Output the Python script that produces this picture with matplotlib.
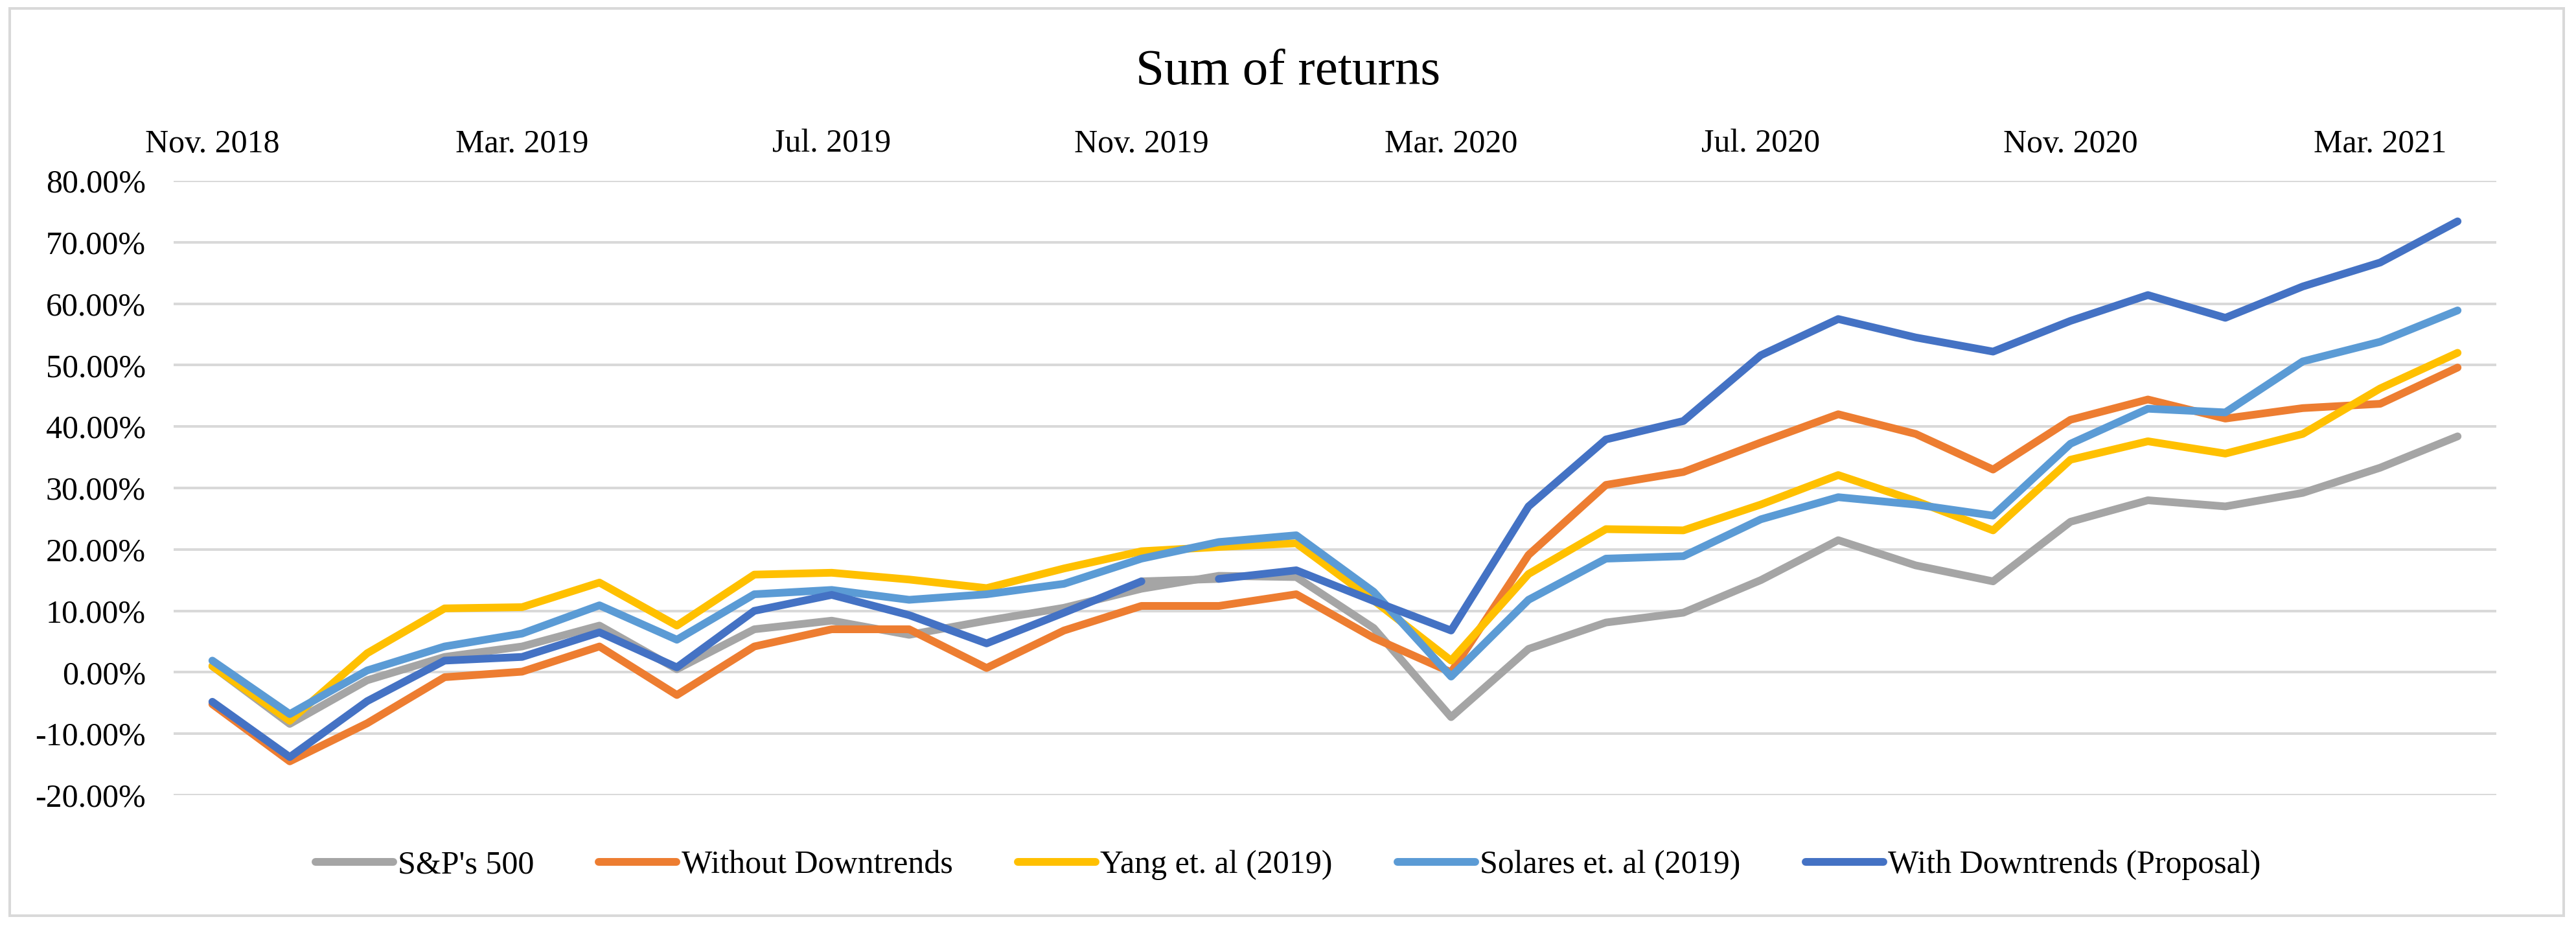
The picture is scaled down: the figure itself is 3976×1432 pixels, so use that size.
import matplotlib
matplotlib.use("Agg")
import matplotlib.pyplot as plt
from matplotlib.patches import Rectangle
from matplotlib.ticker import FuncFormatter, FixedLocator

plt.rcParams['font.family'] = ['Liberation Serif', 'DejaVu Serif']

months = ["Nov. 2018", "Dec. 2018", "Jan. 2019", "Feb. 2019", "Mar. 2019", "Apr. 2019",
          "May. 2019", "Jun. 2019", "Jul. 2019", "Aug. 2019", "Sep. 2019", "Oct. 2019",
          "Nov. 2019", "Dec. 2019", "Jan. 2020", "Feb. 2020", "Mar. 2020", "Apr. 2020",
          "May. 2020", "Jun. 2020", "Jul. 2020", "Aug. 2020", "Sep. 2020", "Oct. 2020",
          "Nov. 2020", "Dec. 2020", "Jan. 2021", "Feb. 2021", "Mar. 2021", "Apr. 2021"]

sp500 = [1.0, -8.4, -1.3, 2.5, 4.2, 7.6, 0.5, 7.0, 8.4, 6.1, 8.4, 10.5, 13.6, 15.7, 15.5,
         7.2, -7.3, 3.8, 8.1, 9.7, 15.0, 21.5, 17.4, 14.8, 24.5, 28.0, 27.0, 29.2, 33.3, 38.4]
without_down = [-5.2, -14.5, -8.3, -0.8, 0.1, 4.2, -3.7, 4.2, 7.0, 7.0, 0.7, 6.8, 10.8, 10.8, 12.7,
                5.6, 0.0, 19.1, 30.5, 32.6, 37.4, 42.0, 38.8, 33.0, 41.1, 44.4, 41.3, 43.0, 43.7, 49.6]
yang = [1.0, -7.9, 3.1, 10.4, 10.6, 14.6, 7.6, 15.9, 16.2, 15.1, 13.7, 16.9, 19.7, 20.4, 21.0,
        11.7, 1.9, 16.0, 23.3, 23.1, 27.3, 32.1, 27.9, 23.1, 34.6, 37.6, 35.6, 38.8, 46.2, 52.0]
solares = [1.9, -6.8, 0.3, 4.2, 6.3, 10.9, 5.3, 12.7, 13.4, 11.8, 12.7, 14.4, 18.5, 21.2, 22.3,
           13.1, -0.7, 11.8, 18.5, 18.9, 24.9, 28.5, 27.3, 25.5, 37.2, 42.9, 42.3, 50.6, 53.8, 58.9]
with_down = [-4.8, -13.8, -4.7, 1.9, 2.5, 6.5, 0.8, 10.0, 12.6, 9.3, 4.7, 9.7, 14.8, 15.2, 16.6,
             11.6, 6.8, 27.0, 37.9, 40.9, 51.6, 57.5, 54.5, 52.2, 57.2, 61.4, 57.7, 62.8, 66.7, 73.4]

series_names = ["S&P's 500", "Without Downtrends", "Yang et. al (2019)",
                "Solares et. al (2019)", "With Downtrends (Proposal)"]
colors = ["#A5A5A5", "#ED7D31", "#FFC000", "#5B9BD5", "#4472C4"]
gap_index = 12  # segment between Nov. 2019 and Dec. 2019 of the proposal is drawn grey

W, H = 3976, 1432
fig = plt.figure(figsize=(W / 100, H / 100), dpi=100)
fig.patch.set_facecolor("white")

ax = fig.add_axes([268 / W, 1 - 1227 / H, (3853 - 268) / W, (1227 - 279) / H])

x = list(range(len(months)))
lw = 8.6
style = dict(linewidth=lw, solid_joinstyle="round", solid_capstyle="round")

handles = []
for i, (vals, name, c) in enumerate(zip([sp500, without_down, yang, solares, with_down],
                                         series_names, colors)):
    if i == 4:
        # grey segment in the gap
        ax.plot(x[gap_index:gap_index + 2], vals[gap_index:gap_index + 2],
                color=colors[0], zorder=2, **style)
        h, = ax.plot(x[:gap_index + 1], vals[:gap_index + 1], color=c, zorder=3 + i, label=name, **style)
        ax.plot(x[gap_index + 1:], vals[gap_index + 1:], color=c, zorder=3 + i, **style)
    else:
        h, = ax.plot(x, vals, color=c, zorder=3 + i, label=name, **style)
    handles.append(h)

ax.set_xlim(-0.5, len(months) - 0.5)
ax.set_ylim(-20, 80)
ax.yaxis.set_major_locator(FixedLocator(list(range(-20, 81, 10))))
ax.yaxis.set_major_formatter(FuncFormatter(lambda v, p: "%.2f%%" % v))

tick_pos = x[::4]
ax.set_xticks(tick_pos)
ax.set_xticklabels([months[i] for i in tick_pos])
ax.xaxis.tick_top()

ax.tick_params(axis="x", which="both", length=0, pad=24, labelsize=36)
ax.tick_params(axis="y", which="both", length=0, pad=31, labelsize=36)
for s in ax.spines.values():
    s.set_visible(False)
ax.yaxis.grid(True, color="#D9D9D9", linewidth=2.9)
ax.xaxis.grid(False)
ax.set_axisbelow(True)

fig.text(0.5, 1 - 130 / H, "Sum of returns", ha="center", va="baseline", fontsize=57)

fig.legend(handles=handles, labels=series_names, loc="center",
           bbox_to_anchor=(0.5, 1 - 1335 / H), ncol=5, frameon=False, fontsize=36,
           handlelength=2.4, handletextpad=0.15, columnspacing=2.0)

fig.patches.append(Rectangle((15 / W, 1 - 1413 / H), (3957 - 15) / W, (1413 - 13) / H,
                             transform=fig.transFigure, fill=False,
                             edgecolor="#D9D9D9", linewidth=2.9))

fig.savefig("out.png", dpi=100, facecolor="white")
